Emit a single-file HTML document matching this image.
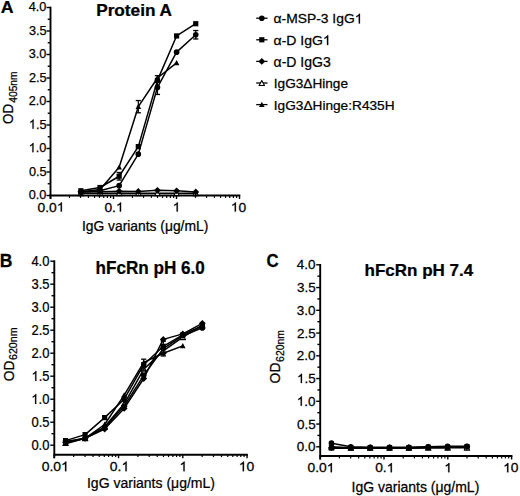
<!DOCTYPE html>
<html><head><meta charset="utf-8"><style>
html,body{margin:0;padding:0;background:#fff;}
svg{display:block;}
text{font-family:"Liberation Sans",sans-serif;fill:#000;stroke:#000;stroke-width:0.25px;}
</style></head><body>
<svg width="520" height="496" viewBox="0 0 520 496">
<rect width="520" height="496" fill="#fff"/>
<line x1="50.50" y1="6.70" x2="50.50" y2="199.00" stroke="#000" stroke-width="1.9"/>
<line x1="49.70" y1="195.50" x2="240.30" y2="195.50" stroke="#000" stroke-width="1.9"/>
<line x1="46.50" y1="195.50" x2="50.50" y2="195.50" stroke="#000" stroke-width="1.4"/>
<g transform="translate(28.75,199.14) scale(1.000,1)"><text font-size="12.70" font-weight="normal">0.0</text></g>
<line x1="47.70" y1="183.75" x2="50.50" y2="183.75" stroke="#000" stroke-width="1.4"/>
<line x1="46.50" y1="172.00" x2="50.50" y2="172.00" stroke="#000" stroke-width="1.4"/>
<g transform="translate(28.88,175.64) scale(1.000,1)"><text font-size="12.70" font-weight="normal">0.5</text></g>
<line x1="47.70" y1="160.25" x2="50.50" y2="160.25" stroke="#000" stroke-width="1.4"/>
<line x1="46.50" y1="148.50" x2="50.50" y2="148.50" stroke="#000" stroke-width="1.4"/>
<g transform="translate(28.75,152.14) scale(1.000,1)"><text font-size="12.70" font-weight="normal"> .0</text><path d="M4.73,0.00L3.62,0.00L3.62,-7.11Q3.21,-6.73 2.56,-6.34Q1.90,-5.96 1.38,-5.77L1.38,-6.85Q2.32,-7.29 3.02,-7.91Q3.72,-8.54 4.01,-9.13L4.73,-9.13Z" stroke="#000" stroke-width="0.25"/></g>
<line x1="47.70" y1="136.75" x2="50.50" y2="136.75" stroke="#000" stroke-width="1.4"/>
<line x1="46.50" y1="125.00" x2="50.50" y2="125.00" stroke="#000" stroke-width="1.4"/>
<g transform="translate(28.88,128.64) scale(1.000,1)"><text font-size="12.70" font-weight="normal"> .5</text><path d="M4.73,0.00L3.62,0.00L3.62,-7.11Q3.21,-6.73 2.56,-6.34Q1.90,-5.96 1.38,-5.77L1.38,-6.85Q2.32,-7.29 3.02,-7.91Q3.72,-8.54 4.01,-9.13L4.73,-9.13Z" stroke="#000" stroke-width="0.25"/></g>
<line x1="47.70" y1="113.25" x2="50.50" y2="113.25" stroke="#000" stroke-width="1.4"/>
<line x1="46.50" y1="101.50" x2="50.50" y2="101.50" stroke="#000" stroke-width="1.4"/>
<g transform="translate(28.75,105.14) scale(1.000,1)"><text font-size="12.70" font-weight="normal">2.0</text></g>
<line x1="47.70" y1="89.75" x2="50.50" y2="89.75" stroke="#000" stroke-width="1.4"/>
<line x1="46.50" y1="78.00" x2="50.50" y2="78.00" stroke="#000" stroke-width="1.4"/>
<g transform="translate(28.88,81.64) scale(1.000,1)"><text font-size="12.70" font-weight="normal">2.5</text></g>
<line x1="47.70" y1="66.25" x2="50.50" y2="66.25" stroke="#000" stroke-width="1.4"/>
<line x1="46.50" y1="54.50" x2="50.50" y2="54.50" stroke="#000" stroke-width="1.4"/>
<g transform="translate(28.75,58.15) scale(1.000,1)"><text font-size="12.70" font-weight="normal">3.0</text></g>
<line x1="47.70" y1="42.75" x2="50.50" y2="42.75" stroke="#000" stroke-width="1.4"/>
<line x1="46.50" y1="31.00" x2="50.50" y2="31.00" stroke="#000" stroke-width="1.4"/>
<g transform="translate(28.88,34.65) scale(1.000,1)"><text font-size="12.70" font-weight="normal">3.5</text></g>
<line x1="47.70" y1="19.25" x2="50.50" y2="19.25" stroke="#000" stroke-width="1.4"/>
<line x1="46.50" y1="7.50" x2="50.50" y2="7.50" stroke="#000" stroke-width="1.4"/>
<g transform="translate(28.75,11.14) scale(1.000,1)"><text font-size="12.70" font-weight="normal">4.0</text></g>
<line x1="50.50" y1="195.50" x2="50.50" y2="199.00" stroke="#000" stroke-width="1.4"/>
<g transform="translate(37.54,211.60) scale(1.080,1)"><text font-size="12.80" font-weight="normal">0.0 </text><path d="M22.56,0.00L21.44,0.00L21.44,-7.17Q21.03,-6.78 20.37,-6.39Q19.71,-6.00 19.19,-5.81L19.19,-6.90Q20.13,-7.34 20.84,-7.97Q21.54,-8.61 21.84,-9.20L22.56,-9.20Z" stroke="#000" stroke-width="0.25"/></g>
<line x1="69.46" y1="195.50" x2="69.46" y2="197.90" stroke="#000" stroke-width="1.2"/>
<line x1="80.56" y1="195.50" x2="80.56" y2="197.90" stroke="#000" stroke-width="1.2"/>
<line x1="88.43" y1="195.50" x2="88.43" y2="197.90" stroke="#000" stroke-width="1.2"/>
<line x1="94.54" y1="195.50" x2="94.54" y2="197.90" stroke="#000" stroke-width="1.2"/>
<line x1="99.52" y1="195.50" x2="99.52" y2="197.90" stroke="#000" stroke-width="1.2"/>
<line x1="103.74" y1="195.50" x2="103.74" y2="197.90" stroke="#000" stroke-width="1.2"/>
<line x1="107.39" y1="195.50" x2="107.39" y2="197.90" stroke="#000" stroke-width="1.2"/>
<line x1="110.62" y1="195.50" x2="110.62" y2="197.90" stroke="#000" stroke-width="1.2"/>
<line x1="113.50" y1="195.50" x2="113.50" y2="199.00" stroke="#000" stroke-width="1.4"/>
<g transform="translate(104.38,211.60) scale(1.080,1)"><text font-size="12.80" font-weight="normal">0. </text><path d="M15.44,0.00L14.32,0.00L14.32,-7.17Q13.91,-6.78 13.25,-6.39Q12.59,-6.00 12.07,-5.81L12.07,-6.90Q13.01,-7.34 13.72,-7.97Q14.42,-8.61 14.72,-9.20L15.44,-9.20Z" stroke="#000" stroke-width="0.25"/></g>
<line x1="132.46" y1="195.50" x2="132.46" y2="197.90" stroke="#000" stroke-width="1.2"/>
<line x1="143.56" y1="195.50" x2="143.56" y2="197.90" stroke="#000" stroke-width="1.2"/>
<line x1="151.43" y1="195.50" x2="151.43" y2="197.90" stroke="#000" stroke-width="1.2"/>
<line x1="157.54" y1="195.50" x2="157.54" y2="197.90" stroke="#000" stroke-width="1.2"/>
<line x1="162.52" y1="195.50" x2="162.52" y2="197.90" stroke="#000" stroke-width="1.2"/>
<line x1="166.74" y1="195.50" x2="166.74" y2="197.90" stroke="#000" stroke-width="1.2"/>
<line x1="170.39" y1="195.50" x2="170.39" y2="197.90" stroke="#000" stroke-width="1.2"/>
<line x1="173.62" y1="195.50" x2="173.62" y2="197.90" stroke="#000" stroke-width="1.2"/>
<line x1="176.50" y1="195.50" x2="176.50" y2="199.00" stroke="#000" stroke-width="1.4"/>
<g transform="translate(172.67,211.60) scale(1.080,1)"><text font-size="12.80" font-weight="normal"> </text><path d="M4.77,0.00L3.64,0.00L3.64,-7.17Q3.24,-6.78 2.58,-6.39Q1.92,-6.00 1.39,-5.81L1.39,-6.90Q2.34,-7.34 3.04,-7.97Q3.75,-8.61 4.04,-9.20L4.77,-9.20Z" stroke="#000" stroke-width="0.25"/></g>
<line x1="195.46" y1="195.50" x2="195.46" y2="197.90" stroke="#000" stroke-width="1.2"/>
<line x1="206.56" y1="195.50" x2="206.56" y2="197.90" stroke="#000" stroke-width="1.2"/>
<line x1="214.43" y1="195.50" x2="214.43" y2="197.90" stroke="#000" stroke-width="1.2"/>
<line x1="220.54" y1="195.50" x2="220.54" y2="197.90" stroke="#000" stroke-width="1.2"/>
<line x1="225.52" y1="195.50" x2="225.52" y2="197.90" stroke="#000" stroke-width="1.2"/>
<line x1="229.74" y1="195.50" x2="229.74" y2="197.90" stroke="#000" stroke-width="1.2"/>
<line x1="233.39" y1="195.50" x2="233.39" y2="197.90" stroke="#000" stroke-width="1.2"/>
<line x1="236.62" y1="195.50" x2="236.62" y2="197.90" stroke="#000" stroke-width="1.2"/>
<line x1="239.50" y1="195.50" x2="239.50" y2="199.00" stroke="#000" stroke-width="1.4"/>
<g transform="translate(230.78,211.60) scale(1.080,1)"><text font-size="12.80" font-weight="normal"> 0</text><path d="M4.77,0.00L3.64,0.00L3.64,-7.17Q3.24,-6.78 2.58,-6.39Q1.92,-6.00 1.39,-5.81L1.39,-6.90Q2.34,-7.34 3.04,-7.97Q3.75,-8.61 4.04,-9.20L4.77,-9.20Z" stroke="#000" stroke-width="0.25"/></g>
<polyline points="80.87,193.15 100.02,193.15 119.16,193.15 138.31,193.15 157.45,193.15 176.60,193.15 195.75,193.15" fill="none" stroke="#000" stroke-width="1.5" stroke-linejoin="round"/>
<polygon points="80.87,190.65 83.57,195.65 78.17,195.65" fill="#fff" stroke="#000" stroke-width="1.1" stroke-linejoin="round"/>
<polygon points="100.02,190.65 102.72,195.65 97.32,195.65" fill="#fff" stroke="#000" stroke-width="1.1" stroke-linejoin="round"/>
<polygon points="119.16,190.65 121.86,195.65 116.46,195.65" fill="#fff" stroke="#000" stroke-width="1.1" stroke-linejoin="round"/>
<polygon points="138.31,190.65 141.01,195.65 135.61,195.65" fill="#fff" stroke="#000" stroke-width="1.1" stroke-linejoin="round"/>
<polygon points="157.45,190.65 160.15,195.65 154.75,195.65" fill="#fff" stroke="#000" stroke-width="1.1" stroke-linejoin="round"/>
<polygon points="176.60,190.65 179.30,195.65 173.90,195.65" fill="#fff" stroke="#000" stroke-width="1.1" stroke-linejoin="round"/>
<polygon points="195.75,190.65 198.45,195.65 193.05,195.65" fill="#fff" stroke="#000" stroke-width="1.1" stroke-linejoin="round"/>
<polyline points="80.87,191.74 100.02,191.74 119.16,191.27 138.31,191.50 157.45,190.33 176.60,190.80 195.75,191.97" fill="none" stroke="#000" stroke-width="1.5" stroke-linejoin="round"/>
<polygon points="80.87,188.34 84.27,191.74 80.87,195.14 77.47,191.74"/>
<polygon points="100.02,188.34 103.42,191.74 100.02,195.14 96.62,191.74"/>
<polygon points="119.16,187.87 122.56,191.27 119.16,194.67 115.76,191.27"/>
<polygon points="138.31,188.10 141.71,191.50 138.31,194.91 134.91,191.50"/>
<polygon points="157.45,186.93 160.85,190.33 157.45,193.73 154.05,190.33"/>
<polygon points="176.60,187.40 180.00,190.80 176.60,194.20 173.20,190.80"/>
<polygon points="195.75,188.57 199.15,191.97 195.75,195.38 192.35,191.97"/>
<polyline points="80.87,192.21 100.02,190.80 119.16,185.63 138.31,154.14 157.45,87.40 176.60,52.15 195.75,34.76" fill="none" stroke="#000" stroke-width="1.5" stroke-linejoin="round"/>
<line x1="195.75" y1="30.53" x2="195.75" y2="38.99" stroke="#000" stroke-width="1.2"/>
<line x1="193.15" y1="30.53" x2="198.35" y2="30.53" stroke="#000" stroke-width="1.3"/>
<line x1="193.15" y1="38.99" x2="198.35" y2="38.99" stroke="#000" stroke-width="1.3"/>
<line x1="157.45" y1="80.35" x2="157.45" y2="94.45" stroke="#000" stroke-width="1.2"/>
<line x1="154.85" y1="80.35" x2="160.05" y2="80.35" stroke="#000" stroke-width="1.3"/>
<line x1="154.85" y1="94.45" x2="160.05" y2="94.45" stroke="#000" stroke-width="1.3"/>
<circle cx="80.87" cy="192.21" r="2.8"/>
<circle cx="100.02" cy="190.80" r="2.8"/>
<circle cx="119.16" cy="185.63" r="2.8"/>
<circle cx="138.31" cy="154.14" r="2.8"/>
<circle cx="157.45" cy="87.40" r="2.8"/>
<circle cx="176.60" cy="52.15" r="2.8"/>
<circle cx="195.75" cy="34.76" r="2.8"/>
<polyline points="80.87,190.80 100.02,187.51 119.16,176.23 138.31,146.62 157.45,80.35 176.60,35.94 195.75,23.72" fill="none" stroke="#000" stroke-width="1.5" stroke-linejoin="round"/>
<line x1="119.16" y1="172.47" x2="119.16" y2="179.99" stroke="#000" stroke-width="1.2"/>
<line x1="116.56" y1="172.47" x2="121.76" y2="172.47" stroke="#000" stroke-width="1.3"/>
<line x1="116.56" y1="179.99" x2="121.76" y2="179.99" stroke="#000" stroke-width="1.3"/>
<rect x="78.27" y="188.20" width="5.2" height="5.2"/>
<rect x="97.42" y="184.91" width="5.2" height="5.2"/>
<rect x="116.56" y="173.63" width="5.2" height="5.2"/>
<rect x="135.71" y="144.02" width="5.2" height="5.2"/>
<rect x="154.85" y="77.75" width="5.2" height="5.2"/>
<rect x="174.00" y="33.34" width="5.2" height="5.2"/>
<rect x="193.15" y="21.12" width="5.2" height="5.2"/>
<polyline points="80.87,191.74 100.02,189.39 119.16,167.30 138.31,106.67 157.45,78.00 176.60,62.96" fill="none" stroke="#000" stroke-width="1.5" stroke-linejoin="round"/>
<line x1="138.31" y1="100.56" x2="138.31" y2="112.78" stroke="#000" stroke-width="1.2"/>
<line x1="135.71" y1="100.56" x2="140.91" y2="100.56" stroke="#000" stroke-width="1.3"/>
<line x1="135.71" y1="112.78" x2="140.91" y2="112.78" stroke="#000" stroke-width="1.3"/>
<line x1="157.45" y1="75.65" x2="157.45" y2="80.35" stroke="#000" stroke-width="1.2"/>
<line x1="154.85" y1="75.65" x2="160.05" y2="75.65" stroke="#000" stroke-width="1.3"/>
<line x1="154.85" y1="80.35" x2="160.05" y2="80.35" stroke="#000" stroke-width="1.3"/>
<polygon points="80.87,188.84 83.67,194.04 78.07,194.04"/>
<polygon points="100.02,186.49 102.82,191.69 97.22,191.69"/>
<polygon points="119.16,164.40 121.96,169.60 116.36,169.60"/>
<polygon points="138.31,103.77 141.11,108.97 135.51,108.97"/>
<polygon points="157.45,75.10 160.25,80.30 154.65,80.30"/>
<polygon points="176.60,60.06 179.40,65.26 173.80,65.26"/>
<g transform="translate(0.67,13.30) scale(1.019,1)"><text font-size="17.39" font-weight="bold">A</text></g>
<g transform="translate(96.19,16.30) scale(1.087,1)"><text font-size="15.83" font-weight="bold">Protein A</text></g>
<g transform="translate(81.95,231.00) scale(1.007,1)"><text font-size="13.75" font-weight="normal">IgG variants (μg/mL)</text></g>
<text transform="translate(12.90,123.97) rotate(-90) scale(0.931,1)" font-size="14.43">OD</text>
<text transform="translate(16.80,102.70) rotate(-90) scale(0.931,1)" font-size="11.00">405nm</text>
<line x1="256.2" y1="18.20" x2="267.5" y2="18.20" stroke="#000" stroke-width="1.3"/>
<circle cx="261.80" cy="18.20" r="2.8"/>
<g transform="translate(273.54,23.40) scale(1.028,1)"><text font-size="13.49" font-weight="normal">α-MSP-3 IgG </text><path d="M84.06,0.00L82.88,0.00L82.88,-7.56Q82.45,-7.15 81.75,-6.74Q81.06,-6.33 80.50,-6.13L80.50,-7.27Q81.50,-7.74 82.24,-8.41Q82.99,-9.07 83.30,-9.70L84.06,-9.70Z" stroke="#000" stroke-width="0.25"/></g>
<line x1="256.2" y1="39.80" x2="267.5" y2="39.80" stroke="#000" stroke-width="1.3"/>
<rect x="259.20" y="37.20" width="5.2" height="5.2"/>
<g transform="translate(273.54,45.00) scale(1.040,1)"><text font-size="13.49" font-weight="normal">α-D IgG </text><path d="M52.57,0.00L51.38,0.00L51.38,-7.56Q50.95,-7.15 50.26,-6.74Q49.56,-6.33 49.01,-6.13L49.01,-7.27Q50.00,-7.74 50.75,-8.41Q51.49,-9.07 51.80,-9.70L52.57,-9.70Z" stroke="#000" stroke-width="0.25"/></g>
<line x1="256.2" y1="61.40" x2="267.5" y2="61.40" stroke="#000" stroke-width="1.3"/>
<polygon points="261.80,58.00 265.20,61.40 261.80,64.80 258.40,61.40"/>
<g transform="translate(273.54,66.60) scale(1.013,1)"><text font-size="13.86" font-weight="normal">α-D IgG3</text></g>
<line x1="256.2" y1="83.00" x2="267.5" y2="83.00" stroke="#000" stroke-width="1.3"/>
<polygon points="261.80,80.50 264.50,85.50 259.10,85.50" fill="#fff" stroke="#000" stroke-width="1.1" stroke-linejoin="round"/>
<g transform="translate(273.77,88.20) scale(1.012,1)"><text font-size="13.47" font-weight="normal">IgG3ΔHinge</text></g>
<line x1="256.2" y1="104.60" x2="267.5" y2="104.60" stroke="#000" stroke-width="1.3"/>
<polygon points="261.80,101.70 264.60,106.90 259.00,106.90"/>
<g transform="translate(273.77,109.80) scale(1.015,1)"><text font-size="13.47" font-weight="normal">IgG3ΔHinge:R435H</text></g>
<line x1="54.30" y1="260.40" x2="54.30" y2="458.20" stroke="#000" stroke-width="1.9"/>
<line x1="53.50" y1="454.70" x2="247.85" y2="454.70" stroke="#000" stroke-width="1.9"/>
<line x1="50.30" y1="445.20" x2="54.30" y2="445.20" stroke="#000" stroke-width="1.4"/>
<g transform="translate(31.39,449.93) scale(0.940,1)"><text font-size="13.80" font-weight="normal">0.0</text></g>
<line x1="51.50" y1="433.70" x2="54.30" y2="433.70" stroke="#000" stroke-width="1.4"/>
<line x1="50.30" y1="422.20" x2="54.30" y2="422.20" stroke="#000" stroke-width="1.4"/>
<g transform="translate(31.52,426.93) scale(0.940,1)"><text font-size="13.80" font-weight="normal">0.5</text></g>
<line x1="51.50" y1="410.70" x2="54.30" y2="410.70" stroke="#000" stroke-width="1.4"/>
<line x1="50.30" y1="399.20" x2="54.30" y2="399.20" stroke="#000" stroke-width="1.4"/>
<g transform="translate(31.39,403.93) scale(0.940,1)"><text font-size="13.80" font-weight="normal"> .0</text><path d="M5.14,0.00L3.93,0.00L3.93,-7.73Q3.49,-7.31 2.78,-6.89Q2.07,-6.47 1.50,-6.27L1.50,-7.44Q2.52,-7.92 3.28,-8.60Q4.04,-9.28 4.36,-9.92L5.14,-9.92Z" stroke="#000" stroke-width="0.25"/></g>
<line x1="51.50" y1="387.70" x2="54.30" y2="387.70" stroke="#000" stroke-width="1.4"/>
<line x1="50.30" y1="376.20" x2="54.30" y2="376.20" stroke="#000" stroke-width="1.4"/>
<g transform="translate(31.52,380.93) scale(0.940,1)"><text font-size="13.80" font-weight="normal"> .5</text><path d="M5.14,0.00L3.93,0.00L3.93,-7.73Q3.49,-7.31 2.78,-6.89Q2.07,-6.47 1.50,-6.27L1.50,-7.44Q2.52,-7.92 3.28,-8.60Q4.04,-9.28 4.36,-9.92L5.14,-9.92Z" stroke="#000" stroke-width="0.25"/></g>
<line x1="51.50" y1="364.70" x2="54.30" y2="364.70" stroke="#000" stroke-width="1.4"/>
<line x1="50.30" y1="353.20" x2="54.30" y2="353.20" stroke="#000" stroke-width="1.4"/>
<g transform="translate(31.39,357.93) scale(0.940,1)"><text font-size="13.80" font-weight="normal">2.0</text></g>
<line x1="51.50" y1="341.70" x2="54.30" y2="341.70" stroke="#000" stroke-width="1.4"/>
<line x1="50.30" y1="330.20" x2="54.30" y2="330.20" stroke="#000" stroke-width="1.4"/>
<g transform="translate(31.52,334.93) scale(0.940,1)"><text font-size="13.80" font-weight="normal">2.5</text></g>
<line x1="51.50" y1="318.70" x2="54.30" y2="318.70" stroke="#000" stroke-width="1.4"/>
<line x1="50.30" y1="307.20" x2="54.30" y2="307.20" stroke="#000" stroke-width="1.4"/>
<g transform="translate(31.39,311.93) scale(0.940,1)"><text font-size="13.80" font-weight="normal">3.0</text></g>
<line x1="51.50" y1="295.70" x2="54.30" y2="295.70" stroke="#000" stroke-width="1.4"/>
<line x1="50.30" y1="284.20" x2="54.30" y2="284.20" stroke="#000" stroke-width="1.4"/>
<g transform="translate(31.52,288.93) scale(0.940,1)"><text font-size="13.80" font-weight="normal">3.5</text></g>
<line x1="51.50" y1="272.70" x2="54.30" y2="272.70" stroke="#000" stroke-width="1.4"/>
<line x1="50.30" y1="261.20" x2="54.30" y2="261.20" stroke="#000" stroke-width="1.4"/>
<g transform="translate(31.39,265.93) scale(0.940,1)"><text font-size="13.80" font-weight="normal">4.0</text></g>
<line x1="54.30" y1="454.70" x2="54.30" y2="458.20" stroke="#000" stroke-width="1.4"/>
<g transform="translate(41.74,471.20) scale(1.040,1)"><text font-size="13.40" font-weight="normal">0.0 </text><path d="M23.62,0.00L22.44,0.00L22.44,-7.50Q22.02,-7.10 21.32,-6.69Q20.64,-6.28 20.09,-6.08L20.09,-7.22Q21.07,-7.69 21.81,-8.35Q22.55,-9.01 22.86,-9.63L23.62,-9.63Z" stroke="#000" stroke-width="0.25"/></g>
<line x1="73.64" y1="454.70" x2="73.64" y2="457.10" stroke="#000" stroke-width="1.2"/>
<line x1="84.96" y1="454.70" x2="84.96" y2="457.10" stroke="#000" stroke-width="1.2"/>
<line x1="92.98" y1="454.70" x2="92.98" y2="457.10" stroke="#000" stroke-width="1.2"/>
<line x1="99.21" y1="454.70" x2="99.21" y2="457.10" stroke="#000" stroke-width="1.2"/>
<line x1="104.30" y1="454.70" x2="104.30" y2="457.10" stroke="#000" stroke-width="1.2"/>
<line x1="108.60" y1="454.70" x2="108.60" y2="457.10" stroke="#000" stroke-width="1.2"/>
<line x1="112.32" y1="454.70" x2="112.32" y2="457.10" stroke="#000" stroke-width="1.2"/>
<line x1="115.61" y1="454.70" x2="115.61" y2="457.10" stroke="#000" stroke-width="1.2"/>
<line x1="118.55" y1="454.70" x2="118.55" y2="458.20" stroke="#000" stroke-width="1.4"/>
<g transform="translate(109.86,471.20) scale(1.040,1)"><text font-size="13.40" font-weight="normal">0. </text><path d="M16.17,0.00L14.99,0.00L14.99,-7.50Q14.56,-7.10 13.87,-6.69Q13.18,-6.28 12.63,-6.08L12.63,-7.22Q13.62,-7.69 14.36,-8.35Q15.10,-9.01 15.41,-9.63L16.17,-9.63Z" stroke="#000" stroke-width="0.25"/></g>
<line x1="137.89" y1="454.70" x2="137.89" y2="457.10" stroke="#000" stroke-width="1.2"/>
<line x1="149.21" y1="454.70" x2="149.21" y2="457.10" stroke="#000" stroke-width="1.2"/>
<line x1="157.23" y1="454.70" x2="157.23" y2="457.10" stroke="#000" stroke-width="1.2"/>
<line x1="163.46" y1="454.70" x2="163.46" y2="457.10" stroke="#000" stroke-width="1.2"/>
<line x1="168.55" y1="454.70" x2="168.55" y2="457.10" stroke="#000" stroke-width="1.2"/>
<line x1="172.85" y1="454.70" x2="172.85" y2="457.10" stroke="#000" stroke-width="1.2"/>
<line x1="176.57" y1="454.70" x2="176.57" y2="457.10" stroke="#000" stroke-width="1.2"/>
<line x1="179.86" y1="454.70" x2="179.86" y2="457.10" stroke="#000" stroke-width="1.2"/>
<line x1="182.80" y1="454.70" x2="182.80" y2="458.20" stroke="#000" stroke-width="1.4"/>
<g transform="translate(179.44,471.20) scale(1.040,1)"><text font-size="13.40" font-weight="normal"> </text><path d="M4.99,0.00L3.81,0.00L3.81,-7.50Q3.39,-7.10 2.70,-6.69Q2.01,-6.28 1.46,-6.08L1.46,-7.22Q2.45,-7.69 3.19,-8.35Q3.93,-9.01 4.23,-9.63L4.99,-9.63Z" stroke="#000" stroke-width="0.25"/></g>
<line x1="202.14" y1="454.70" x2="202.14" y2="457.10" stroke="#000" stroke-width="1.2"/>
<line x1="213.46" y1="454.70" x2="213.46" y2="457.10" stroke="#000" stroke-width="1.2"/>
<line x1="221.48" y1="454.70" x2="221.48" y2="457.10" stroke="#000" stroke-width="1.2"/>
<line x1="227.71" y1="454.70" x2="227.71" y2="457.10" stroke="#000" stroke-width="1.2"/>
<line x1="232.80" y1="454.70" x2="232.80" y2="457.10" stroke="#000" stroke-width="1.2"/>
<line x1="237.10" y1="454.70" x2="237.10" y2="457.10" stroke="#000" stroke-width="1.2"/>
<line x1="240.82" y1="454.70" x2="240.82" y2="457.10" stroke="#000" stroke-width="1.2"/>
<line x1="244.11" y1="454.70" x2="244.11" y2="457.10" stroke="#000" stroke-width="1.2"/>
<line x1="247.05" y1="454.70" x2="247.05" y2="458.20" stroke="#000" stroke-width="1.4"/>
<g transform="translate(238.77,471.20) scale(1.040,1)"><text font-size="13.40" font-weight="normal"> 0</text><path d="M4.99,0.00L3.81,0.00L3.81,-7.50Q3.39,-7.10 2.70,-6.69Q2.01,-6.28 1.46,-6.08L1.46,-7.22Q2.45,-7.69 3.19,-8.35Q3.93,-9.01 4.23,-9.63L4.99,-9.63Z" stroke="#000" stroke-width="0.25"/></g>
<polyline points="65.58,442.90 85.12,438.30 104.65,426.80 124.19,403.80 143.73,369.30 163.26,350.90 182.80,337.10 202.34,325.60" fill="none" stroke="#000" stroke-width="1.5" stroke-linejoin="round"/>
<polygon points="65.58,440.40 68.28,445.40 62.88,445.40" fill="#fff" stroke="#000" stroke-width="1.1" stroke-linejoin="round"/>
<polygon points="85.12,435.80 87.82,440.80 82.42,440.80" fill="#fff" stroke="#000" stroke-width="1.1" stroke-linejoin="round"/>
<polygon points="104.65,424.30 107.35,429.30 101.95,429.30" fill="#fff" stroke="#000" stroke-width="1.1" stroke-linejoin="round"/>
<polygon points="124.19,401.30 126.89,406.30 121.49,406.30" fill="#fff" stroke="#000" stroke-width="1.1" stroke-linejoin="round"/>
<polygon points="143.73,366.80 146.43,371.80 141.03,371.80" fill="#fff" stroke="#000" stroke-width="1.1" stroke-linejoin="round"/>
<polygon points="163.26,348.40 165.96,353.40 160.56,353.40" fill="#fff" stroke="#000" stroke-width="1.1" stroke-linejoin="round"/>
<polygon points="182.80,334.60 185.50,339.60 180.10,339.60" fill="#fff" stroke="#000" stroke-width="1.1" stroke-linejoin="round"/>
<polygon points="202.34,323.10 205.04,328.10 199.64,328.10" fill="#fff" stroke="#000" stroke-width="1.1" stroke-linejoin="round"/>
<polyline points="65.58,442.44 85.12,438.30 104.65,429.10 124.19,408.40 143.73,378.50 163.26,339.40 182.80,333.88 202.34,323.30" fill="none" stroke="#000" stroke-width="1.5" stroke-linejoin="round"/>
<polygon points="65.58,439.04 68.98,442.44 65.58,445.84 62.18,442.44"/>
<polygon points="85.12,434.90 88.52,438.30 85.12,441.70 81.72,438.30"/>
<polygon points="104.65,425.70 108.05,429.10 104.65,432.50 101.25,429.10"/>
<polygon points="124.19,405.00 127.59,408.40 124.19,411.80 120.79,408.40"/>
<polygon points="143.73,375.10 147.13,378.50 143.73,381.90 140.33,378.50"/>
<polygon points="163.26,336.00 166.66,339.40 163.26,342.80 159.86,339.40"/>
<polygon points="182.80,330.48 186.20,333.88 182.80,337.28 179.40,333.88"/>
<polygon points="202.34,319.90 205.74,323.30 202.34,326.70 198.94,323.30"/>
<polyline points="65.58,441.52 85.12,438.30 104.65,427.72 124.19,406.10 143.73,375.28 163.26,348.60 182.80,335.72 202.34,327.90" fill="none" stroke="#000" stroke-width="1.5" stroke-linejoin="round"/>
<line x1="163.26" y1="341.24" x2="163.26" y2="355.96" stroke="#000" stroke-width="1.2"/>
<line x1="160.66" y1="341.24" x2="165.86" y2="341.24" stroke="#000" stroke-width="1.3"/>
<line x1="160.66" y1="355.96" x2="165.86" y2="355.96" stroke="#000" stroke-width="1.3"/>
<circle cx="65.58" cy="441.52" r="2.8"/>
<circle cx="85.12" cy="438.30" r="2.8"/>
<circle cx="104.65" cy="427.72" r="2.8"/>
<circle cx="124.19" cy="406.10" r="2.8"/>
<circle cx="143.73" cy="375.28" r="2.8"/>
<circle cx="163.26" cy="348.60" r="2.8"/>
<circle cx="182.80" cy="335.72" r="2.8"/>
<circle cx="202.34" cy="327.90" r="2.8"/>
<polyline points="65.58,440.60 85.12,434.62 104.65,417.60 124.19,399.20 143.73,364.70 163.26,346.30 182.80,334.80 202.34,325.60" fill="none" stroke="#000" stroke-width="1.5" stroke-linejoin="round"/>
<line x1="143.73" y1="359.18" x2="143.73" y2="370.22" stroke="#000" stroke-width="1.2"/>
<line x1="141.13" y1="359.18" x2="146.33" y2="359.18" stroke="#000" stroke-width="1.3"/>
<line x1="141.13" y1="370.22" x2="146.33" y2="370.22" stroke="#000" stroke-width="1.3"/>
<rect x="62.98" y="438.00" width="5.2" height="5.2"/>
<rect x="82.52" y="432.02" width="5.2" height="5.2"/>
<rect x="102.05" y="415.00" width="5.2" height="5.2"/>
<rect x="121.59" y="396.60" width="5.2" height="5.2"/>
<rect x="141.13" y="362.10" width="5.2" height="5.2"/>
<rect x="160.66" y="343.70" width="5.2" height="5.2"/>
<rect x="180.20" y="332.20" width="5.2" height="5.2"/>
<rect x="199.74" y="323.00" width="5.2" height="5.2"/>
<polyline points="65.58,443.82 85.12,438.30 104.65,424.50 124.19,395.06 143.73,362.40 163.26,353.20 182.80,345.84" fill="none" stroke="#000" stroke-width="1.5" stroke-linejoin="round"/>
<polygon points="65.58,440.92 68.38,446.12 62.78,446.12"/>
<polygon points="85.12,435.40 87.92,440.60 82.32,440.60"/>
<polygon points="104.65,421.60 107.45,426.80 101.85,426.80"/>
<polygon points="124.19,392.16 126.99,397.36 121.39,397.36"/>
<polygon points="143.73,359.50 146.53,364.70 140.93,364.70"/>
<polygon points="163.26,350.30 166.06,355.50 160.46,355.50"/>
<polygon points="182.80,342.94 185.60,348.14 180.00,348.14"/>
<g transform="translate(-0.23,266.50) scale(0.968,1)"><text font-size="18.12" font-weight="bold">B</text></g>
<g transform="translate(95.50,273.90) scale(0.955,1)"><text font-size="17.92" font-weight="bold">hFcRn pH 6.0</text></g>
<g transform="translate(86.94,488.00) scale(0.944,1)"><text font-size="14.86" font-weight="normal">IgG variants (μg/mL)</text></g>
<text transform="translate(13.50,381.19) rotate(-90) scale(0.933,1)" font-size="14.86">OD</text>
<text transform="translate(17.00,360.03) rotate(-90) scale(0.946,1)" font-size="11.29">620nm</text>
<line x1="320.20" y1="264.00" x2="320.20" y2="459.50" stroke="#000" stroke-width="1.9"/>
<line x1="319.40" y1="456.00" x2="512.40" y2="456.00" stroke="#000" stroke-width="1.9"/>
<line x1="316.20" y1="446.80" x2="320.20" y2="446.80" stroke="#000" stroke-width="1.4"/>
<g transform="translate(296.83,451.25) scale(1.060,1)"><text font-size="12.70" font-weight="normal">0.0</text></g>
<line x1="317.40" y1="435.43" x2="320.20" y2="435.43" stroke="#000" stroke-width="1.4"/>
<line x1="316.20" y1="424.05" x2="320.20" y2="424.05" stroke="#000" stroke-width="1.4"/>
<g transform="translate(296.96,428.50) scale(1.060,1)"><text font-size="12.70" font-weight="normal">0.5</text></g>
<line x1="317.40" y1="412.68" x2="320.20" y2="412.68" stroke="#000" stroke-width="1.4"/>
<line x1="316.20" y1="401.30" x2="320.20" y2="401.30" stroke="#000" stroke-width="1.4"/>
<g transform="translate(296.83,405.75) scale(1.060,1)"><text font-size="12.70" font-weight="normal"> .0</text><path d="M4.73,0.00L3.62,0.00L3.62,-7.11Q3.21,-6.73 2.56,-6.34Q1.90,-5.96 1.38,-5.77L1.38,-6.85Q2.32,-7.29 3.02,-7.91Q3.72,-8.54 4.01,-9.13L4.73,-9.13Z" stroke="#000" stroke-width="0.25"/></g>
<line x1="317.40" y1="389.93" x2="320.20" y2="389.93" stroke="#000" stroke-width="1.4"/>
<line x1="316.20" y1="378.55" x2="320.20" y2="378.55" stroke="#000" stroke-width="1.4"/>
<g transform="translate(296.96,383.00) scale(1.060,1)"><text font-size="12.70" font-weight="normal"> .5</text><path d="M4.73,0.00L3.62,0.00L3.62,-7.11Q3.21,-6.73 2.56,-6.34Q1.90,-5.96 1.38,-5.77L1.38,-6.85Q2.32,-7.29 3.02,-7.91Q3.72,-8.54 4.01,-9.13L4.73,-9.13Z" stroke="#000" stroke-width="0.25"/></g>
<line x1="317.40" y1="367.18" x2="320.20" y2="367.18" stroke="#000" stroke-width="1.4"/>
<line x1="316.20" y1="355.80" x2="320.20" y2="355.80" stroke="#000" stroke-width="1.4"/>
<g transform="translate(296.83,360.25) scale(1.060,1)"><text font-size="12.70" font-weight="normal">2.0</text></g>
<line x1="317.40" y1="344.43" x2="320.20" y2="344.43" stroke="#000" stroke-width="1.4"/>
<line x1="316.20" y1="333.05" x2="320.20" y2="333.05" stroke="#000" stroke-width="1.4"/>
<g transform="translate(296.96,337.50) scale(1.060,1)"><text font-size="12.70" font-weight="normal">2.5</text></g>
<line x1="317.40" y1="321.68" x2="320.20" y2="321.68" stroke="#000" stroke-width="1.4"/>
<line x1="316.20" y1="310.30" x2="320.20" y2="310.30" stroke="#000" stroke-width="1.4"/>
<g transform="translate(296.83,314.75) scale(1.060,1)"><text font-size="12.70" font-weight="normal">3.0</text></g>
<line x1="317.40" y1="298.93" x2="320.20" y2="298.93" stroke="#000" stroke-width="1.4"/>
<line x1="316.20" y1="287.55" x2="320.20" y2="287.55" stroke="#000" stroke-width="1.4"/>
<g transform="translate(296.96,292.00) scale(1.060,1)"><text font-size="12.70" font-weight="normal">3.5</text></g>
<line x1="317.40" y1="276.18" x2="320.20" y2="276.18" stroke="#000" stroke-width="1.4"/>
<line x1="316.20" y1="264.80" x2="320.20" y2="264.80" stroke="#000" stroke-width="1.4"/>
<g transform="translate(296.83,269.25) scale(1.060,1)"><text font-size="12.70" font-weight="normal">4.0</text></g>
<line x1="320.20" y1="456.00" x2="320.20" y2="459.50" stroke="#000" stroke-width="1.4"/>
<g transform="translate(307.54,472.30) scale(1.080,1)"><text font-size="12.80" font-weight="normal">0.0 </text><path d="M22.56,0.00L21.44,0.00L21.44,-7.17Q21.03,-6.78 20.37,-6.39Q19.71,-6.00 19.19,-5.81L19.19,-6.90Q20.13,-7.34 20.84,-7.97Q21.54,-8.61 21.84,-9.20L22.56,-9.20Z" stroke="#000" stroke-width="0.25"/></g>
<line x1="339.41" y1="456.00" x2="339.41" y2="458.40" stroke="#000" stroke-width="1.2"/>
<line x1="350.64" y1="456.00" x2="350.64" y2="458.40" stroke="#000" stroke-width="1.2"/>
<line x1="358.61" y1="456.00" x2="358.61" y2="458.40" stroke="#000" stroke-width="1.2"/>
<line x1="364.79" y1="456.00" x2="364.79" y2="458.40" stroke="#000" stroke-width="1.2"/>
<line x1="369.85" y1="456.00" x2="369.85" y2="458.40" stroke="#000" stroke-width="1.2"/>
<line x1="374.12" y1="456.00" x2="374.12" y2="458.40" stroke="#000" stroke-width="1.2"/>
<line x1="377.82" y1="456.00" x2="377.82" y2="458.40" stroke="#000" stroke-width="1.2"/>
<line x1="381.08" y1="456.00" x2="381.08" y2="458.40" stroke="#000" stroke-width="1.2"/>
<line x1="384.00" y1="456.00" x2="384.00" y2="459.50" stroke="#000" stroke-width="1.4"/>
<g transform="translate(375.18,472.30) scale(1.080,1)"><text font-size="12.80" font-weight="normal">0. </text><path d="M15.44,0.00L14.32,0.00L14.32,-7.17Q13.91,-6.78 13.25,-6.39Q12.59,-6.00 12.07,-5.81L12.07,-6.90Q13.01,-7.34 13.72,-7.97Q14.42,-8.61 14.72,-9.20L15.44,-9.20Z" stroke="#000" stroke-width="0.25"/></g>
<line x1="403.21" y1="456.00" x2="403.21" y2="458.40" stroke="#000" stroke-width="1.2"/>
<line x1="414.44" y1="456.00" x2="414.44" y2="458.40" stroke="#000" stroke-width="1.2"/>
<line x1="422.41" y1="456.00" x2="422.41" y2="458.40" stroke="#000" stroke-width="1.2"/>
<line x1="428.59" y1="456.00" x2="428.59" y2="458.40" stroke="#000" stroke-width="1.2"/>
<line x1="433.65" y1="456.00" x2="433.65" y2="458.40" stroke="#000" stroke-width="1.2"/>
<line x1="437.92" y1="456.00" x2="437.92" y2="458.40" stroke="#000" stroke-width="1.2"/>
<line x1="441.62" y1="456.00" x2="441.62" y2="458.40" stroke="#000" stroke-width="1.2"/>
<line x1="444.88" y1="456.00" x2="444.88" y2="458.40" stroke="#000" stroke-width="1.2"/>
<line x1="447.80" y1="456.00" x2="447.80" y2="459.50" stroke="#000" stroke-width="1.4"/>
<g transform="translate(444.27,472.30) scale(1.080,1)"><text font-size="12.80" font-weight="normal"> </text><path d="M4.77,0.00L3.64,0.00L3.64,-7.17Q3.24,-6.78 2.58,-6.39Q1.92,-6.00 1.39,-5.81L1.39,-6.90Q2.34,-7.34 3.04,-7.97Q3.75,-8.61 4.04,-9.20L4.77,-9.20Z" stroke="#000" stroke-width="0.25"/></g>
<line x1="467.01" y1="456.00" x2="467.01" y2="458.40" stroke="#000" stroke-width="1.2"/>
<line x1="478.24" y1="456.00" x2="478.24" y2="458.40" stroke="#000" stroke-width="1.2"/>
<line x1="486.21" y1="456.00" x2="486.21" y2="458.40" stroke="#000" stroke-width="1.2"/>
<line x1="492.39" y1="456.00" x2="492.39" y2="458.40" stroke="#000" stroke-width="1.2"/>
<line x1="497.45" y1="456.00" x2="497.45" y2="458.40" stroke="#000" stroke-width="1.2"/>
<line x1="501.72" y1="456.00" x2="501.72" y2="458.40" stroke="#000" stroke-width="1.2"/>
<line x1="505.42" y1="456.00" x2="505.42" y2="458.40" stroke="#000" stroke-width="1.2"/>
<line x1="508.68" y1="456.00" x2="508.68" y2="458.40" stroke="#000" stroke-width="1.2"/>
<line x1="511.60" y1="456.00" x2="511.60" y2="459.50" stroke="#000" stroke-width="1.4"/>
<g transform="translate(503.18,472.30) scale(1.080,1)"><text font-size="12.80" font-weight="normal"> 0</text><path d="M4.77,0.00L3.64,0.00L3.64,-7.17Q3.24,-6.78 2.58,-6.39Q1.92,-6.00 1.39,-5.81L1.39,-6.90Q2.34,-7.34 3.04,-7.97Q3.75,-8.61 4.04,-9.20L4.77,-9.20Z" stroke="#000" stroke-width="0.25"/></g>
<polyline points="331.46,448.17 350.82,448.17 370.18,448.17 389.53,448.17 408.89,448.17 428.24,447.71 447.60,447.71" fill="none" stroke="#000" stroke-width="1.5" stroke-linejoin="round"/>
<polygon points="331.46,445.27 334.26,450.47 328.66,450.47"/>
<polygon points="350.82,445.27 353.62,450.47 348.02,450.47"/>
<polygon points="370.18,445.27 372.98,450.47 367.38,450.47"/>
<polygon points="389.53,445.27 392.33,450.47 386.73,450.47"/>
<polygon points="408.89,445.27 411.69,450.47 406.09,450.47"/>
<polygon points="428.24,444.81 431.04,450.01 425.44,450.01"/>
<polygon points="447.60,444.81 450.40,450.01 444.80,450.01"/>
<polyline points="331.46,446.80 350.82,447.71 370.18,447.71 389.53,447.71 408.89,447.71 428.24,447.71 447.60,447.71 466.96,447.71" fill="none" stroke="#000" stroke-width="1.5" stroke-linejoin="round"/>
<polygon points="331.46,444.30 334.16,449.30 328.76,449.30" fill="#fff" stroke="#000" stroke-width="1.1" stroke-linejoin="round"/>
<polygon points="350.82,445.21 353.52,450.21 348.12,450.21" fill="#fff" stroke="#000" stroke-width="1.1" stroke-linejoin="round"/>
<polygon points="370.18,445.21 372.88,450.21 367.48,450.21" fill="#fff" stroke="#000" stroke-width="1.1" stroke-linejoin="round"/>
<polygon points="389.53,445.21 392.23,450.21 386.83,450.21" fill="#fff" stroke="#000" stroke-width="1.1" stroke-linejoin="round"/>
<polygon points="408.89,445.21 411.59,450.21 406.19,450.21" fill="#fff" stroke="#000" stroke-width="1.1" stroke-linejoin="round"/>
<polygon points="428.24,445.21 430.94,450.21 425.54,450.21" fill="#fff" stroke="#000" stroke-width="1.1" stroke-linejoin="round"/>
<polygon points="447.60,445.21 450.30,450.21 444.90,450.21" fill="#fff" stroke="#000" stroke-width="1.1" stroke-linejoin="round"/>
<polygon points="466.96,445.21 469.66,450.21 464.26,450.21" fill="#fff" stroke="#000" stroke-width="1.1" stroke-linejoin="round"/>
<polyline points="331.46,447.71 350.82,447.71 370.18,447.71 389.53,447.71 408.89,447.71 428.24,447.25 447.60,447.25 466.96,446.80" fill="none" stroke="#000" stroke-width="1.5" stroke-linejoin="round"/>
<polygon points="331.46,444.31 334.86,447.71 331.46,451.11 328.06,447.71"/>
<polygon points="350.82,444.31 354.22,447.71 350.82,451.11 347.42,447.71"/>
<polygon points="370.18,444.31 373.58,447.71 370.18,451.11 366.78,447.71"/>
<polygon points="389.53,444.31 392.93,447.71 389.53,451.11 386.13,447.71"/>
<polygon points="408.89,444.31 412.29,447.71 408.89,451.11 405.49,447.71"/>
<polygon points="428.24,443.86 431.64,447.25 428.24,450.65 424.84,447.25"/>
<polygon points="447.60,443.86 451.00,447.25 447.60,450.65 444.20,447.25"/>
<polygon points="466.96,443.40 470.36,446.80 466.96,450.20 463.56,446.80"/>
<polyline points="331.46,443.16 350.82,446.80 370.18,447.25 389.53,447.25 408.89,447.25 428.24,446.80 447.60,446.35 466.96,446.35" fill="none" stroke="#000" stroke-width="1.5" stroke-linejoin="round"/>
<circle cx="331.46" cy="443.16" r="2.8"/>
<circle cx="350.82" cy="446.80" r="2.8"/>
<circle cx="370.18" cy="447.25" r="2.8"/>
<circle cx="389.53" cy="447.25" r="2.8"/>
<circle cx="408.89" cy="447.25" r="2.8"/>
<circle cx="428.24" cy="446.80" r="2.8"/>
<circle cx="447.60" cy="446.35" r="2.8"/>
<circle cx="466.96" cy="446.35" r="2.8"/>
<polyline points="331.46,447.71 350.82,447.71 370.18,447.71 389.53,447.71 408.89,447.71 428.24,447.25 447.60,447.25 466.96,446.80" fill="none" stroke="#000" stroke-width="1.5" stroke-linejoin="round"/>
<rect x="328.86" y="445.11" width="5.2" height="5.2"/>
<rect x="348.22" y="445.11" width="5.2" height="5.2"/>
<rect x="367.58" y="445.11" width="5.2" height="5.2"/>
<rect x="386.93" y="445.11" width="5.2" height="5.2"/>
<rect x="406.29" y="445.11" width="5.2" height="5.2"/>
<rect x="425.64" y="444.65" width="5.2" height="5.2"/>
<rect x="445.00" y="444.65" width="5.2" height="5.2"/>
<rect x="464.36" y="444.20" width="5.2" height="5.2"/>
<g transform="translate(266.43,267.00) scale(0.903,1)"><text font-size="18.57" font-weight="bold">C</text></g>
<g transform="translate(364.61,276.40) scale(1.011,1)"><text font-size="16.81" font-weight="bold">hFcRn pH 7.4</text></g>
<g transform="translate(351.54,491.60) scale(0.960,1)"><text font-size="14.58" font-weight="normal">IgG variants (μg/mL)</text></g>
<text transform="translate(280.10,383.40) rotate(-90) scale(0.911,1)" font-size="15.29">OD</text>
<text transform="translate(283.50,361.92) rotate(-90) scale(0.949,1)" font-size="11.00">620nm</text>
</svg>
</body></html>
